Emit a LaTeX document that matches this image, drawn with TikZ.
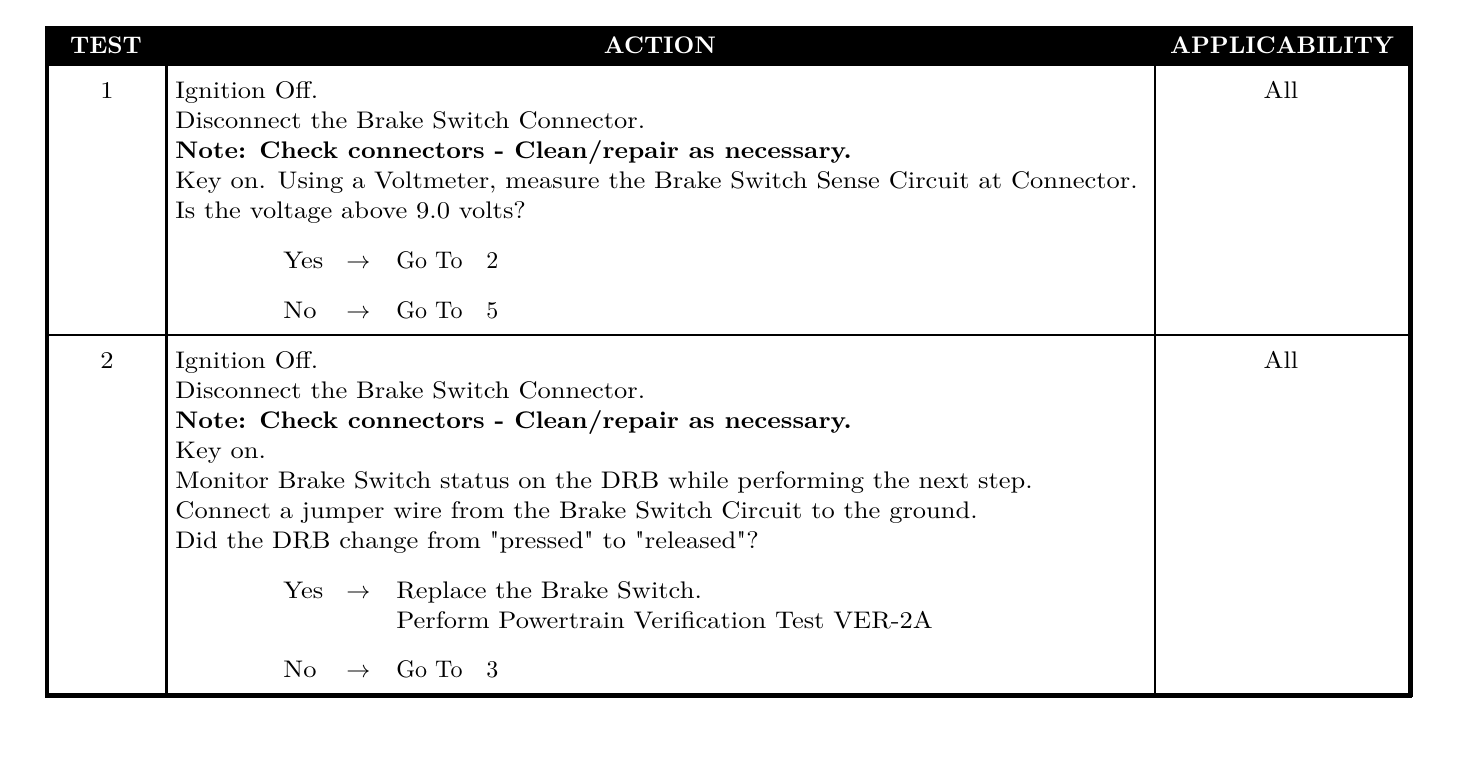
\documentclass[tikz,border=0pt]{standalone}
\usepackage{fontspec}
\newfontfamily\bodyfont{lmroman10-regular.otf}[FakeStretch=1.104, BoldFont=lmroman10-bold.otf, BoldFeatures={FakeStretch=1.066}]
\newfontfamily\plainfont{lmroman10-regular.otf}
\newfontfamily\headfont{lmroman10-bold.otf}
\begin{document}
\begin{tikzpicture}[x=0.5pt,y=-0.5pt,
  txt/.style={anchor=base west,inner sep=0pt,font=\bodyfont\fontsize{12}{15}\selectfont},
  gotxt/.style={anchor=base west,inner sep=0pt,font=\plainfont\fontsize{12}{15}\selectfont},
  ctr/.style={anchor=base,inner sep=0pt,font=\bodyfont\fontsize{12}{15}\selectfont},
  hdr/.style={anchor=base,inner sep=0pt,text=white,font=\headfont\fontsize{12}{15}\selectfont},
  thickline/.style={line width=2.5pt},
  thinline/.style={line width=1.2pt}]
\useasboundingbox (0,0) rectangle (1472,762);
% header band
\fill[black] (45,26) rectangle (1412,66);
% frame
\draw[line width=2pt] (47,26) -- (47,697);
\draw[thickline] (1410,26) -- (1410,697);
\draw[thickline] (45,695) -- (1412,695);
\draw[line width=1.5pt] (166,66) -- (166,695);
\draw[thinline] (1155,66) -- (1155,695);
\draw[line width=1.3pt] (47,335) -- (1410,335);
% header texts
\node[hdr] (hT) at (106,53) {TEST};
\node[hdr] (hA) at (660,53) {ACTION};
\node[hdr] (hP) at (1282,53) {APPLICABILITY};
% row 1
\node[ctr] (n1) at (107,98) {1};
\node[ctr] (a1) at (1281,98) {All};
\node[txt] (r1a) at (175,98) {Ignition Off.};
\node[txt] (r1b) at (175,128) {Disconnect the Brake Switch Connector.};
\node[txt] (r1c) at (175,158) {\bfseries Note: Check connectors - Clean/repair as necessary.};
\node[txt] (r1d) at (175,188) {Key on. Using a Voltmeter, measure the Brake Switch Sense Circuit at Connector.};
\node[txt] (r1e) at (175,218) {Is the voltage above 9.0 volts?};
\node[txt] (y1) at (283,268) {Yes};
\node[txt] (y1r) at (346,268) {$\rightarrow$};
\node[gotxt] (y1g) at (396,268) {Go To};
\node[gotxt] (y1n) at (486,268) {2};
\node[txt] (o1) at (283,318) {No};
\node[txt] (o1r) at (346,318) {$\rightarrow$};
\node[gotxt] (o1g) at (396,318) {Go To};
\node[gotxt] (o1n) at (486,318) {5};
% row 2
\node[ctr] (n2) at (107,368) {2};
\node[ctr] (a2) at (1281,368) {All};
\node[txt] (r2a) at (175,368) {Ignition Off.};
\node[txt] (r2b) at (175,398) {Disconnect the Brake Switch Connector.};
\node[txt] (r2c) at (175,428) {\bfseries Note: Check connectors - Clean/repair as necessary.};
\node[txt] (r2d) at (175,458) {Key on.};
\node[txt] (r2e) at (175,488) {Monitor Brake Switch status on the DRB while performing the next step.};
\node[txt] (r2f) at (175,518) {Connect a jumper wire from the Brake Switch Circuit to the ground.};
\node[txt] (r2g) at (175,548) {Did the DRB change from "pressed" to "released"?};
\node[txt] (y2) at (283,598) {Yes};
\node[txt] (y2r) at (346,598) {$\rightarrow$};
\node[txt] (y2g) at (396,598) {Replace the Brake Switch.};
\node[txt] (y2h) at (396,628) {Perform Powertrain Verification Test VER-2A};
\node[txt] (o2) at (283,677) {No};
\node[txt] (o2r) at (346,677) {$\rightarrow$};
\node[gotxt] (o2g) at (396,677) {Go To};
\node[gotxt] (o2n) at (486,677) {3};
\end{tikzpicture}
\end{document}
